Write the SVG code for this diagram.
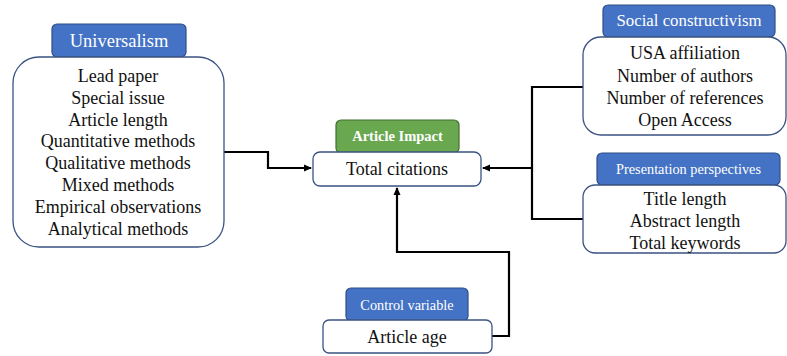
<svg xmlns="http://www.w3.org/2000/svg" width="787" height="356" viewBox="0 0 787 356">
<style>
.box{fill:#fff;stroke:#3a5383;stroke-width:1.3}
.lbl{fill:#4472c4;stroke:#2f4f86;stroke-width:1.2}
.glbl{fill:#6aa84f;stroke:#3f6f2e;stroke-width:1.2}
text{font-family:'Liberation Serif','Times New Roman','DejaVu Serif',serif}
.t{font-size:18px;fill:#111;text-anchor:middle}
.lt{fill:#fff;text-anchor:middle}
.c{fill:none;stroke:#000;stroke-width:2.2}
</style>
<defs>
<marker id="ah" markerWidth="8" markerHeight="8" refX="7" refY="4" orient="auto" markerUnits="userSpaceOnUse">
<path d="M0,0.5 L8,4 L0,7.5 Z" fill="#000"/>
</marker>
</defs>
<rect width="787" height="356" fill="#fff"/>
<g id="connectors">
<polyline class="c" points="224,152 268,152 268,168 311,168" marker-end="url(#ah)"/>
<polyline class="c" points="583,87 532,87 532,219 583,219"/>
<line class="c" x1="532" y1="168" x2="483" y2="168" marker-end="url(#ah)"/>
<polyline class="c" points="492,336 509,336 509,252 397,252 397,188" marker-end="url(#ah)"/>
</g>
<g id="universalism">
<rect class="lbl" x="52" y="24" width="134" height="33" rx="5"/>
<text class="lt" x="119" y="47" font-size="18.5">Universalism</text>
<rect class="box" x="13" y="57" width="211" height="190" rx="26"/>
<text class="t" x="118" y="82">Lead paper</text>
<text class="t" x="118" y="104">Special issue</text>
<text class="t" x="118" y="126">Article length</text>
<text class="t" x="118" y="147">Quantitative methods</text>
<text class="t" x="118" y="169">Qualitative methods</text>
<text class="t" x="118" y="191">Mixed methods</text>
<text class="t" x="118" y="213">Empirical observations</text>
<text class="t" x="118" y="235">Analytical methods</text>
</g>
<g id="article-impact">
<rect class="glbl" x="336" y="120" width="123" height="33" rx="5"/>
<text class="lt" x="397.5" y="141" font-size="14.5" font-weight="bold">Article Impact</text>
<rect class="box" x="313" y="152" width="168" height="34" rx="7"/>
<text class="t" x="397" y="175">Total citations</text>
</g>
<g id="social-constructivism">
<rect class="lbl" x="603" y="5" width="172" height="32" rx="5"/>
<text class="lt" x="689" y="26" font-size="16.8">Social constructivism</text>
<rect class="box" x="583" y="37" width="203" height="98" rx="18"/>
<text class="t" x="685" y="59">USA affiliation</text>
<text class="t" x="685" y="82">Number of authors</text>
<text class="t" x="685" y="104">Number of references</text>
<text class="t" x="685" y="126">Open Access</text>
</g>
<g id="presentation-perspectives">
<rect class="lbl" x="597" y="153" width="183" height="32" rx="5"/>
<text class="lt" x="688.5" y="174" font-size="14.3">Presentation perspectives</text>
<rect class="box" x="583" y="185" width="203" height="68" rx="12"/>
<text class="t" x="685" y="205">Title length</text>
<text class="t" x="685" y="227">Abstract length</text>
<text class="t" x="685" y="249">Total keywords</text>
</g>
<g id="control-variable">
<rect class="lbl" x="346" y="288" width="122" height="33" rx="5"/>
<text class="lt" x="407" y="310" font-size="14.3">Control variable</text>
<rect class="box" x="323" y="320" width="169" height="33" rx="6"/>
<text class="t" x="407" y="343">Article age</text>
</g>
</svg>
